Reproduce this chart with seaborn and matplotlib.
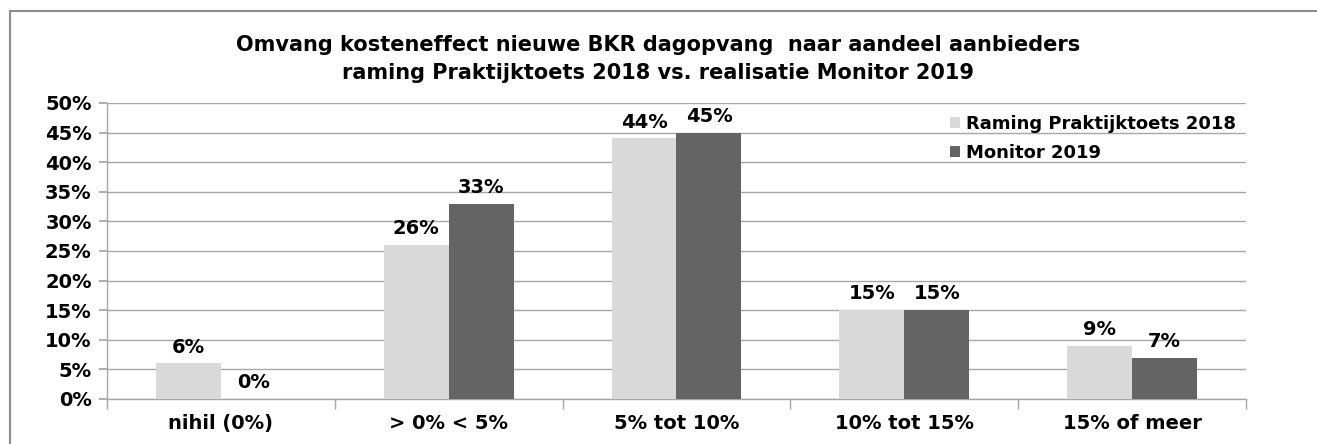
import matplotlib.pyplot as plt
import seaborn as sns
import pandas as pd
import numpy as np
from matplotlib.lines import Line2D
from matplotlib.ticker import FixedLocator, PercentFormatter

categories = ["nihil (0%)", "> 0% < 5%", "5% tot 10%", "10% tot 15%", "15% of meer"]
raming_2018 = [6, 26, 44, 15, 9]
monitor_2019 = [0, 33, 45, 15, 7]
series_names = ["Raming Praktijktoets 2018", "Monitor 2019"]
colors = ["#D9D9D9", "#646464"]

title = ("Omvang kosteneffect nieuwe BKR dagopvang  naar aandeel aanbieders\n"
         "raming Praktijktoets 2018 vs. realisatie Monitor 2019")

df = pd.DataFrame({
    "categorie": categories * 2,
    "reeks": [series_names[0]] * 5 + [series_names[1]] * 5,
    "waarde": raming_2018 + monitor_2019,
})

sns.set_theme(style="white")
plt.rcParams["font.family"] = ["DejaVu Sans"]
plt.rcParams["font.weight"] = "bold"
plt.rcParams.update({"text.color": "black", "xtick.color": "black",
                     "ytick.color": "black", "axes.labelcolor": "black"})

fig = plt.figure(figsize=(13.17, 4.44), dpi=100)
ax = fig.add_axes([0.0812, 0.1014, 0.8649, 0.6667])

sns.barplot(data=df, x="categorie", y="waarde", hue="reeks",
            palette=colors, width=0.57, gap=0, saturation=1,
            edgecolor="none", ax=ax, zorder=3)

ax.set_ylim(0, 50)
ax.set_xlim(-0.5, 4.5)
ax.set_yticks(np.arange(0, 51, 5))
ax.yaxis.set_major_formatter(PercentFormatter(decimals=0))
ax.grid(axis="y", color="#A6A6A6", linewidth=1.0, zorder=0)
ax.set_axisbelow(True)

for s in ["top", "right"]:
    ax.spines[s].set_visible(False)
for s in ["left", "bottom"]:
    ax.spines[s].set_color("#A6A6A6")
    ax.spines[s].set_linewidth(1.0)

ax.tick_params(axis="y", left=True, length=6, color="#A6A6A6",
               labelcolor="black", labelsize=14, pad=5)
ax.tick_params(axis="x", which="major", length=0, labelsize=14, pad=11,
               labelcolor="black")
ax.xaxis.set_minor_locator(FixedLocator(np.arange(-0.5, 5, 1)))
ax.tick_params(axis="x", which="minor", bottom=True, length=7,
               color="#A6A6A6", width=1.0)
for lab in ax.get_xticklabels() + ax.get_yticklabels():
    lab.set_fontweight("bold")

for cont in ax.containers:
    ax.bar_label(cont, fmt="%.0f%%", padding=5, fontsize=14,
                 fontweight="bold", color="black")

ax.set_xlabel("")
ax.set_ylabel("")

handles, labels = ax.get_legend_handles_labels()
ax.legend(handles, labels, loc="upper left", bbox_to_anchor=(0.732, 0.99),
          frameon=False, handlelength=0.55, handleheight=0.55,
          handletextpad=0.35, labelspacing=0.62, borderaxespad=0.3,
          borderpad=0.2, prop={"weight": "bold", "size": 13})

fig.text(0.5, 0.922, title, ha="center", va="top", fontsize=15,
         fontweight="bold", linespacing=1.55, color="black")

# outer chart border (cut off at right and bottom like the source)
fig.add_artist(Line2D([10 / 1317, 1.0], [1 - 11 / 444, 1 - 11 / 444],
                      transform=fig.transFigure, color="#8C8C8C", linewidth=1.5))
fig.add_artist(Line2D([10 / 1317, 10 / 1317], [0, 1 - 11 / 444],
                      transform=fig.transFigure, color="#8C8C8C", linewidth=1.5))

plt.savefig("out.png", dpi=100)
